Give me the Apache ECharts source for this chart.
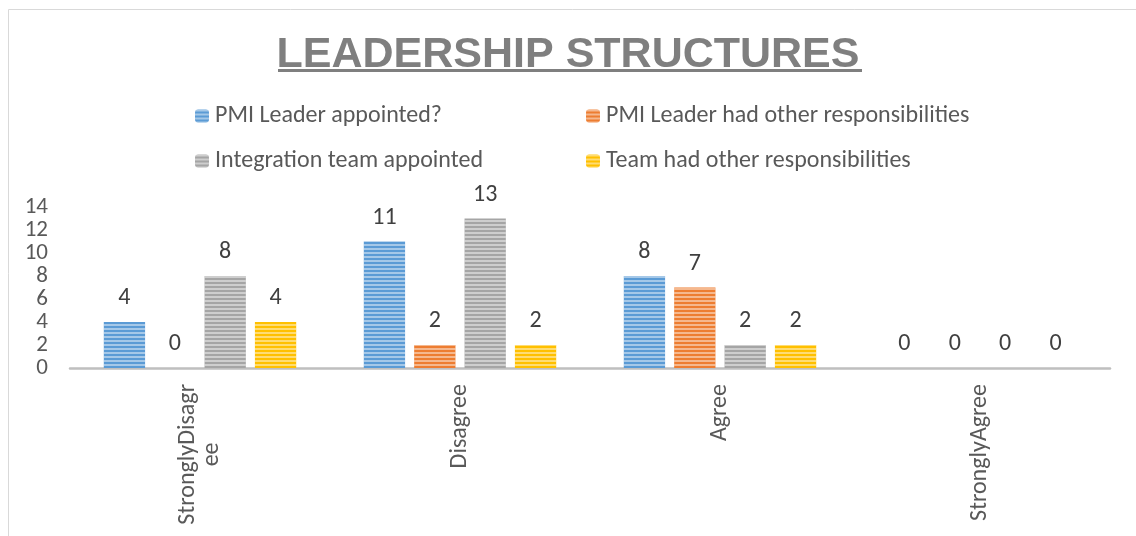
<!DOCTYPE html>
<html>
<head>
<meta charset="utf-8">
<script src="https://cdn.jsdelivr.net/npm/echarts@6/dist/echarts.min.js"></script>
<style>
  html, body { margin: 0; padding: 0; background: #fff; }
  #main { width: 1136px; height: 536px; }
</style>
</head>
<body>
<div id="main"></div>
<script>
// 数据
const categories = ['StronglyDisagree', 'Disagree', 'Agree', 'StronglyAgree'];
const leaderAppointed = [4, 11, 8, 0];
const leaderOtherResp = [0, 2, 7, 0];
const teamAppointed = [8, 13, 2, 0];
const teamOtherResp = [4, 2, 2, 0];
const seriesNames = [
    'PMI Leader appointed?',
    'PMI Leader had other responsibilities',
    'Integration team appointed',
    'Team had other responsibilities'
];
const yMin = 0, yMax = 14, yStep = 2;

const colors = ['#5B9BD5', '#ED7D31', '#A5A5A5', '#FFC000'];
const labelFont = 'Carlito, Lato, sans-serif';
const fs = 24;

const myChart = echarts.init(document.getElementById('main'));

// 横条纹填充
const stripe = {
    symbol: 'rect',
    symbolSize: 1,
    color: 'rgba(255,255,255,0.45)',
    dashArrayX: [1, 0],
    dashArrayY: [2, 2],
    rotation: 0
};

function makeSeries(name, data, i) {
    return {
        name: name,
        type: 'bar',
        data: data,
        barGap: '22%',
        barCategoryGap: '26%',
        itemStyle: { color: colors[i], decal: stripe },
        label: {
            show: true,
            position: 'top',
            distance: 12,
            color: '#404040',
            fontSize: fs,
            fontFamily: labelFont
        }
    };
}

function legendAt(name, left, top) {
    return {
        data: [name],
        left: left,
        top: top,
        itemWidth: 14,
        itemHeight: 13,
        itemGap: 0,
        selectedMode: false,
        textStyle: { color: '#595959', fontSize: fs, fontFamily: labelFont, padding: [0, 0, 0, 1] }
    };
}

myChart.setOption({
    animation: false,
    title: {
        text: 'LEADERSHIP STRUCTURES',
        left: 'center',
        top: 29,
        textStyle: {
            color: '#7F7F7F',
            fontSize: 43,
            fontWeight: 'bold',
            fontFamily: '"Liberation Sans", Arial, sans-serif'
        }
    },
    graphic: [
        {   // 外框
            type: 'rect',
            shape: { x: 8.5, y: 9.5, width: 1140, height: 540 },
            style: { fill: 'none', stroke: '#d9d9d9', lineWidth: 1 },
            silent: true
        },
        {   // 标题下划线
            type: 'rect',
            shape: { x: 278, y: 69, width: 584, height: 3 },
            style: { fill: '#7F7F7F' },
            silent: true
        }
    ],
    legend: [
        legendAt(seriesNames[0], 190, 99),
        legendAt(seriesNames[1], 581, 99),
        legendAt(seriesNames[2], 190, 144),
        legendAt(seriesNames[3], 581, 144)
    ],
    grid: { left: 70, right: 26, top: 207, bottom: 168 },
    xAxis: {
        type: 'category',
        data: categories,
        axisLine: { show: true, lineStyle: { color: '#BFBFBF', width: 2.5 } },
        axisTick: { show: false },
        axisLabel: {
            rotate: 90,
            margin: 16,
            interval: 0,
            color: '#595959',
            fontSize: fs,
            fontFamily: labelFont,
            formatter: function (v) {
                // Excel 里这个标签被折成两行
                if (v.length > 14) {
                    return '{a|' + v.slice(0, 14) + '}\n{b|' + v.slice(14) + '}';
                }
                return v;
            },
            rich: {
                a: { color: '#595959', fontSize: fs, fontFamily: labelFont },
                b: { color: '#595959', fontSize: fs, fontFamily: labelFont, align: 'center' }
            }
        }
    },
    yAxis: {
        type: 'value',
        min: yMin,
        max: yMax,
        interval: yStep,
        axisLine: { show: false },
        axisTick: { show: false },
        splitLine: { show: false },
        axisLabel: {
            margin: 22,
            showMinLabel: true,
            showMaxLabel: true,
            hideOverlap: false,
            formatter: function (v) { return '{v|' + v + '}'; },
            rich: {
                v: { color: '#595959', fontSize: 23, lineHeight: 18, height: 18, fontFamily: labelFont }
            }
        }
    },
    series: [
        makeSeries(seriesNames[0], leaderAppointed, 0),
        makeSeries(seriesNames[1], leaderOtherResp, 1),
        makeSeries(seriesNames[2], teamAppointed, 2),
        makeSeries(seriesNames[3], teamOtherResp, 3)
    ]
});
</script>
</body>
</html>
